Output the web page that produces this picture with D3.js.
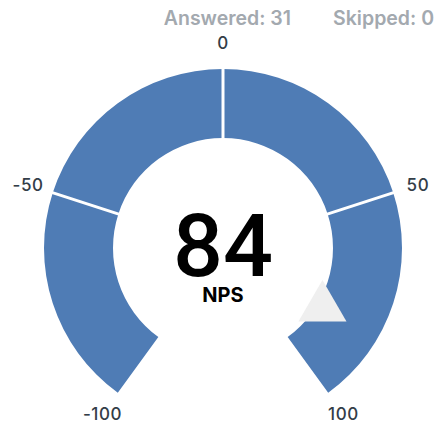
<!DOCTYPE html>
<html>
<head>
<meta charset="utf-8">
<script src="https://cdn.jsdelivr.net/npm/d3@7"></script>
<style>
  html, body { margin: 0; padding: 0; background: #fff; }
  body { font-family: Inter, "Noto Sans", sans-serif; }
</style>
</head>
<body>
<svg id="gauge"></svg>
<script>
// data
const tickValues = [-100, -50, 0, 50, 100];
const segmentStarts = [-100, -50, 0, 50];
const segmentEnds = [-50, 0, 50, 100];
const npsValue = 84;
const npsLabel = "NPS";
const answered = 31;
const skipped = 0;

let width = 437;
let height = 427;
let cx = 223, cy = 248;
let outerR = 179, innerR = 110;

let svg = d3.select('#gauge')
    .attr('width', width)
    .attr('height', height);

// -100..100 maps on 288 degrees
let angle = d3.scaleLinear()
    .domain([-100, 100])
    .range([-0.8 * Math.PI, 0.8 * Math.PI]);

let arc = d3.arc()
    .innerRadius(innerR)
    .outerRadius(outerR);

let g = svg.append('g')
    .attr('transform', `translate(${cx},${cy})`);

let segments = segmentStarts.map((s, i) => ({start: s, end: segmentEnds[i]}));

g.append('g')
  .selectAll('path')
  .data(segments)
  .join('path')
    .attr('fill', '#4f7cb5')
    .attr('d', d => arc({startAngle: angle(d.start), endAngle: angle(d.end)}));

// white separators between segments
g.append('g')
  .selectAll('line')
  .data(tickValues.slice(1, -1))
  .join('line')
    .attr('x1', d => (innerR - 2) * Math.sin(angle(d)))
    .attr('y1', d => -(innerR - 2) * Math.cos(angle(d)))
    .attr('x2', d => (outerR + 2) * Math.sin(angle(d)))
    .attr('y2', d => -(outerR + 2) * Math.cos(angle(d)))
    .attr('stroke', '#fff')
    .attr('stroke-width', 3);

// tick labels
let labelR = 205;
g.append('g')
  .selectAll('text')
  .data(tickValues)
  .join('text')
    .attr('x', d => labelR * Math.sin(angle(d)))
    .attr('y', d => -labelR * Math.cos(angle(d)))
    .attr('text-anchor', 'middle')
    .attr('dominant-baseline', 'central')
    .attr('font-size', 17)
    .attr('font-weight', 500)
    .attr('letter-spacing', 0.6)
    .attr('fill', '#333d48')
    .text(d => d);

// pointer
let pointerR = 116;
g.append('path')
    .attr('d', d3.symbol(d3.symbolTriangle, 1000))
    .attr('transform', `translate(${pointerR * Math.sin(angle(npsValue))},${-pointerR * Math.cos(angle(npsValue))})`)
    .attr('fill', '#efefef');

// center value
g.append('text')
    .attr('x', 0)
    .attr('y', 28)
    .attr('text-anchor', 'middle')
    .attr('font-family', 'Roboto, sans-serif')
    .attr('font-size', 88)
    .attr('font-weight', 500)
    .attr('fill', '#000')
    .text(npsValue);

g.append('text')
    .attr('x', 0)
    .attr('y', 54)
    .attr('text-anchor', 'middle')
    .attr('font-size', 20)
    .attr('font-weight', 700)
    .attr('fill', '#000')
    .text(npsLabel);

// header counts
svg.append('text')
    .attr('x', 291)
    .attr('y', 25)
    .attr('text-anchor', 'end')
    .attr('font-size', 19.5)
    .attr('font-weight', 600)
    .attr('fill', '#a3a9af')
    .text(`Answered: ${answered}`);

svg.append('text')
    .attr('x', 434)
    .attr('y', 25)
    .attr('text-anchor', 'end')
    .attr('font-size', 19.5)
    .attr('font-weight', 600)
    .attr('fill', '#a3a9af')
    .text(`Skipped: ${skipped}`);
</script>
</body>
</html>
